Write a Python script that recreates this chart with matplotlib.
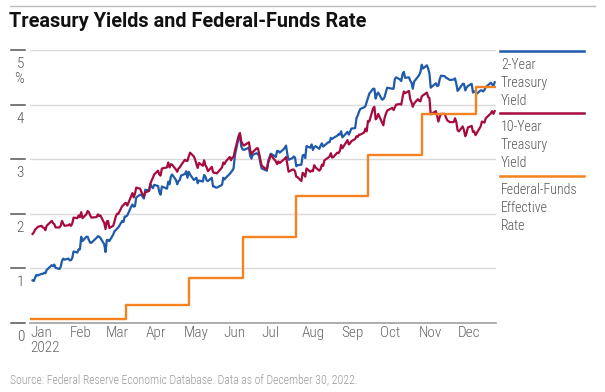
import matplotlib
matplotlib.use('Agg')
import matplotlib.pyplot as plt
from matplotlib.lines import Line2D
from matplotlib.transforms import ScaledTranslation
import pandas as pd

plt.rcParams['font.family'] = ['Roboto Condensed', 'DejaVu Sans']

# bond market holidays 2022 (no yield quotes on these days)
holidays = ['2022-01-17', '2022-02-21', '2022-04-15', '2022-05-30', '2022-06-20',
            '2022-07-04', '2022-09-05', '2022-10-10', '2022-11-11', '2022-11-24',
            '2022-12-26']

# 2-year treasury yield, daily, one row per month
y2 = [
    0.78, 0.77, 0.83, 0.88, 0.87, 0.90, 0.90, 0.92, 0.91, 0.97, 1.06, 1.04, 1.07, 1.01, 0.99, 1.03, 1.14, 1.18, 1.16, 1.18,
    1.15, 1.15, 1.19, 1.31, 1.29, 1.35, 1.35, 1.58, 1.50, 1.58, 1.58, 1.52, 1.47, 1.47, 1.56, 1.59, 1.58, 1.56, 1.44,
    1.30, 1.52, 1.52, 1.50, 1.62, 1.68, 1.70, 1.73, 1.75, 1.87, 1.85, 1.95, 1.95, 1.97, 2.13, 2.17, 2.13, 2.14, 2.30, 2.35, 2.35, 2.31, 2.28,
    2.44, 2.43, 2.54, 2.50, 2.47, 2.53, 2.51, 2.40, 2.35, 2.50, 2.46, 2.59, 2.54, 2.68, 2.72, 2.62, 2.54, 2.60, 2.62, 2.70,
    2.73, 2.78, 2.66, 2.77, 2.72, 2.62, 2.64, 2.66, 2.56, 2.61, 2.59, 2.71, 2.68, 2.61, 2.60, 2.66, 2.50, 2.50, 2.48, 2.48, 2.53,
    2.66, 2.63, 2.66, 2.73, 2.76, 2.79, 2.83, 3.06, 3.40, 3.43, 3.24, 3.18, 3.17, 3.21, 3.06, 3.01, 3.08, 3.11, 3.09, 3.06, 2.92,
    2.83, 2.79, 2.96, 3.03, 3.10, 3.06, 3.04, 3.15, 3.15, 3.12, 3.18, 3.21, 3.25, 3.09, 2.99, 3.02, 3.05, 3.03, 2.87, 2.89,
    2.90, 3.07, 3.08, 3.02, 3.24, 3.21, 3.27, 3.17, 3.22, 3.24, 3.19, 3.25, 3.29, 3.23, 3.25, 3.31, 3.31, 3.39, 3.37, 3.39, 3.43, 3.46, 3.45,
    3.51, 3.40, 3.50, 3.45, 3.50, 3.56, 3.57, 3.75, 3.80, 3.87, 3.92, 3.95, 3.97, 4.05, 4.12, 4.20, 4.29, 4.29, 4.11, 4.19, 4.22,
    4.09, 4.10, 4.14, 4.23, 4.31, 4.29, 4.29, 4.47, 4.50, 4.46, 4.43, 4.56, 4.60, 4.49, 4.50, 4.44, 4.40, 4.29, 4.42, 4.51,
    4.54, 4.60, 4.73, 4.66, 4.72, 4.66, 4.57, 4.31, 4.39, 4.34, 4.35, 4.46, 4.53, 4.52, 4.49, 4.48, 4.45, 4.46, 4.48, 4.38,
    4.25, 4.28, 4.38, 4.38, 4.26, 4.31, 4.34, 4.38, 4.22, 4.24, 4.24, 4.20, 4.26, 4.26, 4.24, 4.27, 4.32, 4.40, 4.37, 4.34, 4.41,
]

# 10-year treasury yield
y10 = [
    1.63, 1.66, 1.71, 1.73, 1.76, 1.78, 1.75, 1.74, 1.70, 1.78, 1.87, 1.83, 1.81, 1.75, 1.75, 1.78, 1.87, 1.82, 1.78, 1.79,
    1.81, 1.78, 1.82, 1.93, 1.92, 1.97, 1.94, 2.03, 1.92, 1.99, 2.05, 2.03, 1.97, 1.93, 1.94, 1.99, 1.96, 1.97, 1.83,
    1.72, 1.86, 1.87, 1.74, 1.78, 1.86, 1.95, 2.00, 2.00, 2.14, 2.16, 2.19, 2.20, 2.15, 2.32, 2.38, 2.30, 2.37, 2.48, 2.46, 2.40, 2.35, 2.32,
    2.39, 2.42, 2.55, 2.61, 2.66, 2.72, 2.79, 2.72, 2.70, 2.83, 2.85, 2.94, 2.85, 2.91, 2.90, 2.81, 2.77, 2.83, 2.85, 2.89,
    2.99, 2.97, 2.97, 3.05, 3.12, 3.05, 2.99, 2.91, 2.84, 2.93, 2.88, 2.98, 2.89, 2.85, 2.78, 2.86, 2.76, 2.75, 2.75, 2.74, 2.85,
    2.94, 2.91, 2.96, 3.04, 2.98, 3.03, 3.04, 3.15, 3.43, 3.48, 3.33, 3.28, 3.25, 3.31, 3.16, 3.09, 3.13, 3.20, 3.20, 3.10, 2.98,
    2.88, 2.81, 2.93, 3.00, 3.08, 2.99, 2.96, 2.91, 2.96, 2.93, 2.99, 3.01, 3.04, 2.91, 2.77, 2.81, 2.81, 2.78, 2.68, 2.67,
    2.60, 2.75, 2.73, 2.68, 2.83, 2.77, 2.79, 2.78, 2.89, 2.85, 2.79, 2.82, 2.90, 2.88, 2.98, 3.03, 3.05, 3.11, 3.03, 3.04, 3.12, 3.11, 3.15,
    3.26, 3.20, 3.35, 3.27, 3.29, 3.33, 3.37, 3.42, 3.41, 3.45, 3.45, 3.49, 3.56, 3.51, 3.70, 3.69, 3.93, 3.96, 3.73, 3.76, 3.83,
    3.67, 3.62, 3.76, 3.83, 3.89, 3.94, 3.90, 3.95, 4.00, 4.01, 4.00, 4.13, 4.24, 4.21, 4.25, 4.10, 4.04, 3.96, 4.02, 4.10,
    4.07, 4.06, 4.15, 4.17, 4.22, 4.14, 4.12, 3.82, 3.88, 3.80, 3.69, 3.77, 3.83, 3.83, 3.76, 3.71, 3.68, 3.68, 3.75, 3.68,
    3.53, 3.51, 3.60, 3.53, 3.42, 3.48, 3.58, 3.61, 3.50, 3.51, 3.44, 3.48, 3.60, 3.69, 3.68, 3.67, 3.75, 3.84, 3.88, 3.83, 3.88,
]

# fed funds effective rate: dates where it changed
ff_dates = ['2022-01-01', '2022-03-17', '2022-05-05', '2022-06-16', '2022-07-28',
            '2022-09-22', '2022-11-03', '2022-12-15', '2022-12-31']
ff_rate = [0.08, 0.33, 0.83, 1.58, 2.33, 3.08, 3.83, 4.33, 4.33]

months = ['Jan\n2022', 'Feb', 'Mar', 'Apr', 'May', 'Jun', 'Jul', 'Aug', 'Sep', 'Oct', 'Nov', 'Dec']
series_names = ['2-Year\nTreasury\nYield', '10-Year\nTreasury\nYield', 'Federal-Funds\nEffective\nRate']
colors = ['#1F5BAA', '#A50B3D', '#F58220']

days = pd.bdate_range('2022-01-03', '2022-12-30', freq='C', holidays=holidays)
assert len(days) == len(y2) == len(y10), (len(days), len(y2), len(y10))

W, H = 605, 392
fig = plt.figure(figsize=(W / 100, H / 100), dpi=100)
ax = fig.add_axes([30 / W, 1 - 323 / H, 466 / W, 273 / H])

def fx(px):
    return px / W

def fy(py):
    return 1 - py / H

ax.plot(days, y2, color=colors[0], lw=1.6, zorder=3)
ax.plot(days, y10, color=colors[1], lw=1.6, zorder=3)
ax.step(pd.to_datetime(ff_dates), ff_rate, where='post', color=colors[2], lw=1.7, zorder=4)

ax.set_xlim(pd.Timestamp('2022-01-01'), pd.Timestamp('2022-12-31'))
ax.set_ylim(0, 5)
for s in ax.spines.values():
    s.set_visible(False)

# grid + baseline
for v in range(1, 6):
    ax.axhline(v, color='#dadada', lw=1, zorder=0)
ax.axhline(0, color='#a0a0a0', lw=1.2, zorder=1, clip_on=False)

# y labels sit under short tick marks on the left
ytr = ax.get_yaxis_transform()
ax.set_yticks([])
for v in range(0, 6):
    ax.plot([-19 / 466, -5 / 466], [v, v], transform=ytr, color='#555', lw=1.1, clip_on=False)
    off = ScaledTranslation(0, -18 / 100, fig.dpi_scale_trans)
    ax.text(-6 / 466, v, str(v), transform=ytr + off, ha='right', va='baseline',
            fontsize=11, fontweight='light', color='#555')
ax.text(-6 / 466, 5, '%', transform=ytr + ScaledTranslation(0, -33 / 100, fig.dpi_scale_trans),
        ha='right', va='baseline', fontsize=11, fontweight='light', color='#555')

ax.set_xticks(pd.date_range('2022-01-01', periods=12, freq='MS'))
ax.set_xticklabels(months, ha='left', linespacing=1.15, fontweight='light')
ax.tick_params(axis='x', length=0, pad=2, labelsize=11, labelcolor='#666')

# header
fig.add_artist(Line2D([fx(10), fx(595)], [fy(6), fy(6)], transform=fig.transFigure,
                      color='#bbbbbb', lw=1))
fig.text(fx(9), fy(27), 'Treasury Yields and Federal-Funds Rate', fontsize=14.3,
         fontweight='bold', family='Roboto', color='#111', va='baseline')

# legend on the right
for name, col, ly in zip(series_names, colors, [51, 113, 176]):
    fig.add_artist(Line2D([fx(500), fx(584)], [fy(ly), fy(ly)], transform=fig.transFigure,
                          color=col, lw=1.8))
    for j, line in enumerate(name.split('\n')):
        fig.text(fx(501), fy(ly + 18 + 18 * j), line, fontsize=10, fontweight='light',
                 color='#555', va='baseline')

fig.text(fx(10), fy(383), 'Source: Federal Reserve Economic Database. Data as of December 30, 2022.',
         fontsize=8.5, fontweight='light', color='#999', va='baseline')

fig.savefig('out.png', dpi=100)
